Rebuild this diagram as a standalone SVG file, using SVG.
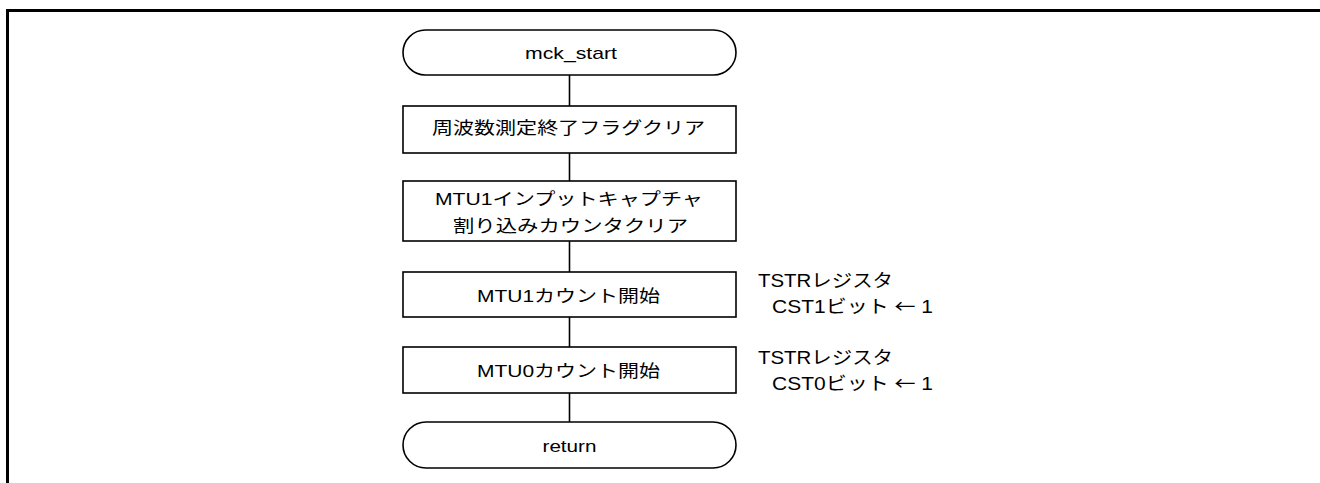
<svg xmlns="http://www.w3.org/2000/svg" width="1320" height="483" viewBox="0 0 1320 483">
<style>
.s{fill:#fff;stroke:#000;stroke-width:1.6}
.c{stroke:#000;stroke-width:1.6;fill:none}
.t{font-family:"Liberation Sans","Noto Sans CJK JP",sans-serif;font-size:17px;fill:#000}
.m{text-anchor:middle}
.a{font-size:18px}
.j{font-family:"Noto Sans CJK JP",sans-serif}
</style>
<rect width="1320" height="483" fill="#fff"/>
<path d="M7.5,483 V10.5 H1320" fill="none" stroke="#000" stroke-width="3"/>
<g id="connectors">
<line class="c" x1="569.5" y1="75" x2="569.5" y2="106"/>
<line class="c" x1="569.5" y1="153" x2="569.5" y2="181"/>
<line class="c" x1="569.5" y1="241" x2="569.5" y2="272"/>
<line class="c" x1="569.5" y1="317" x2="569.5" y2="347"/>
<line class="c" x1="569.5" y1="393" x2="569.5" y2="422"/>
</g>
<g id="start">
<rect class="s" x="403" y="30" width="333" height="45" rx="22.5"/>
<text class="t m" x="571" y="58.5" textLength="92" lengthAdjust="spacingAndGlyphs">mck_start</text>
</g>
<g id="step1">
<rect class="s" x="403" y="106" width="333" height="47"/>
<text class="t m" x="568.5" y="134" textLength="273" lengthAdjust="spacingAndGlyphs">周波数測定終了フラグクリア</text>
</g>
<g id="step2">
<rect class="s" x="403" y="181" width="333" height="60"/>
<text class="t m" x="569" y="205" textLength="268" lengthAdjust="spacingAndGlyphs">MTU1インプットキャプチャ</text>
<text class="t m" x="570.5" y="232" textLength="235" lengthAdjust="spacingAndGlyphs">割り込みカウンタクリア</text>
</g>
<g id="step3">
<rect class="s" x="403" y="272" width="333" height="45"/>
<text class="t m" x="568.5" y="301.5" textLength="183" lengthAdjust="spacingAndGlyphs">MTU1カウント開始</text>
</g>
<g id="note1">
<text class="t a" x="758" y="286.7" textLength="135" lengthAdjust="spacingAndGlyphs">TSTRレジスタ</text>
<text class="t a" x="772" y="313.3" textLength="161" lengthAdjust="spacingAndGlyphs">CST1ビット <tspan class="j">←</tspan> 1</text>
</g>
<g id="step4">
<rect class="s" x="403" y="347" width="333" height="46"/>
<text class="t m" x="568.5" y="376.5" textLength="183" lengthAdjust="spacingAndGlyphs">MTU0カウント開始</text>
</g>
<g id="note2">
<text class="t a" x="758" y="363.7" textLength="135" lengthAdjust="spacingAndGlyphs">TSTRレジスタ</text>
<text class="t a" x="772" y="389.7" textLength="161" lengthAdjust="spacingAndGlyphs">CST0ビット <tspan class="j">←</tspan> 1</text>
</g>
<g id="return">
<rect class="s" x="403" y="422" width="333" height="46" rx="23"/>
<text class="t m" x="569.5" y="451.5" textLength="54" lengthAdjust="spacingAndGlyphs">return</text>
</g>
</svg>
